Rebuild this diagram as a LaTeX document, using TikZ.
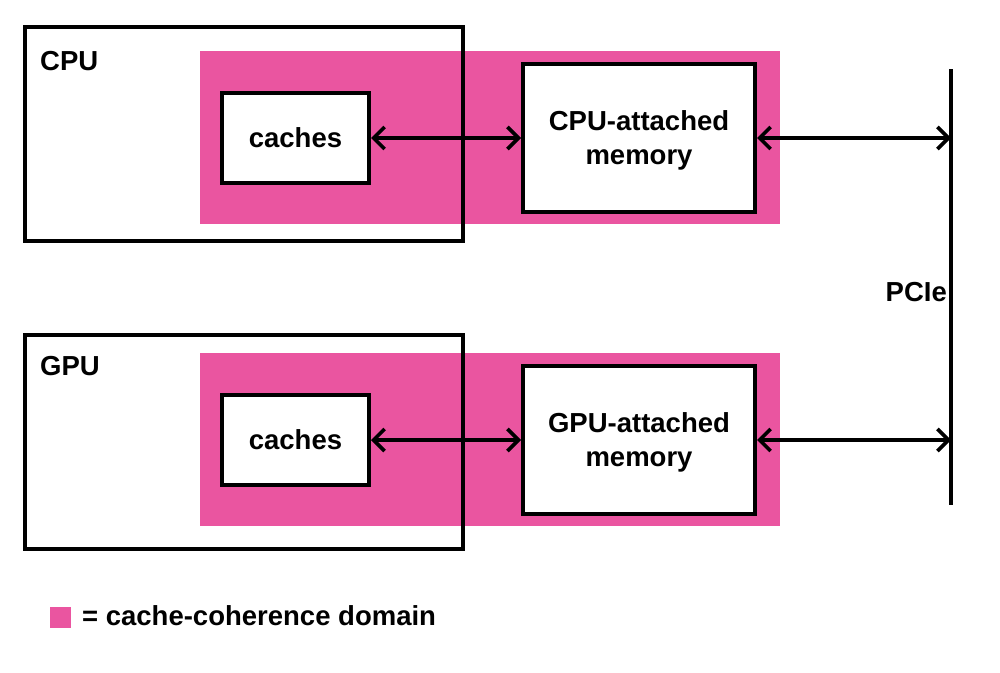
\documentclass[tikz,border=0pt]{standalone}
\usepackage{fontspec}
\setmainfont{Liberation Sans}
\usetikzlibrary{arrows.meta}
\definecolor{domainpink}{RGB}{234,85,160}
\tikzset{
  outerbox/.style={draw=black, line width=4pt, minimum width=438pt, minimum height=214pt, inner sep=0pt},
  cohdomain/.style={fill=domainpink, draw=none, minimum width=580pt, minimum height=173pt, inner sep=0pt},
  unitbox/.style={draw=black, fill=white, line width=4pt, inner sep=0pt, align=center, text depth=0pt, font=\fontsize{27.5}{34}\selectfont\bfseries},
  lbl/.style={font=\fontsize{27.5}{34}\selectfont\bfseries, inner sep=0pt},
  link/.style={line width=3.6pt, {Straight Barb[length=11pt,width=22pt]}-{Straight Barb[length=11pt,width=22pt]}},
  bus/.style={line width=4pt}
}
\begin{document}
\begin{tikzpicture}[x=1pt,y=-1pt]
\useasboundingbox (0,0) rectangle (1000,672);
% CPU row
\node[cohdomain] (dom1) at (490,137.5) {};
\node[outerbox] (cpu) at (244,134) {};
\node[lbl, anchor=west] (cpulbl) at (40,61) {CPU};
\node[unitbox, minimum width=147pt, minimum height=90pt] (cache1) at (295.5,138) {caches};
\node[unitbox, minimum width=232pt, minimum height=148pt] (mem1) at (639,138) {CPU-attached\\memory};
% GPU row
\node[cohdomain] (dom2) at (490,439) {};
\node[outerbox] (gpu) at (244,441.5) {};
\node[lbl, anchor=west] (gpulbl) at (40,366) {GPU};
\node[unitbox, minimum width=147pt, minimum height=90pt] (cache2) at (295.5,440) {caches};
\node[unitbox, minimum width=232pt, minimum height=148pt] (mem2) at (639,440) {GPU-attached\\memory};
% PCIe bus
\coordinate (pcietop) at (951,69);
\coordinate (pciebot) at (951,505);
\draw[bus] (pcietop) -- (pciebot);
\node[lbl, anchor=east] (pcielbl) at (947,292) {PCIe};
% links
\draw[link] (cache1.east) -- (mem1.west |- cache1.east);
\draw[link] (mem1.east) -- (mem1.east -| pcietop);
\draw[link] (cache2.east) -- (mem2.west |- cache2.east);
\draw[link] (mem2.east) -- (mem2.east -| pcietop);
% legend
\node[fill=domainpink, minimum size=21pt, inner sep=0pt] (legsq) at (60.5,617.5) {};
\node[lbl, anchor=west] (legtxt) at (82,616) {= cache-coherence domain};
\end{tikzpicture}
\end{document}
